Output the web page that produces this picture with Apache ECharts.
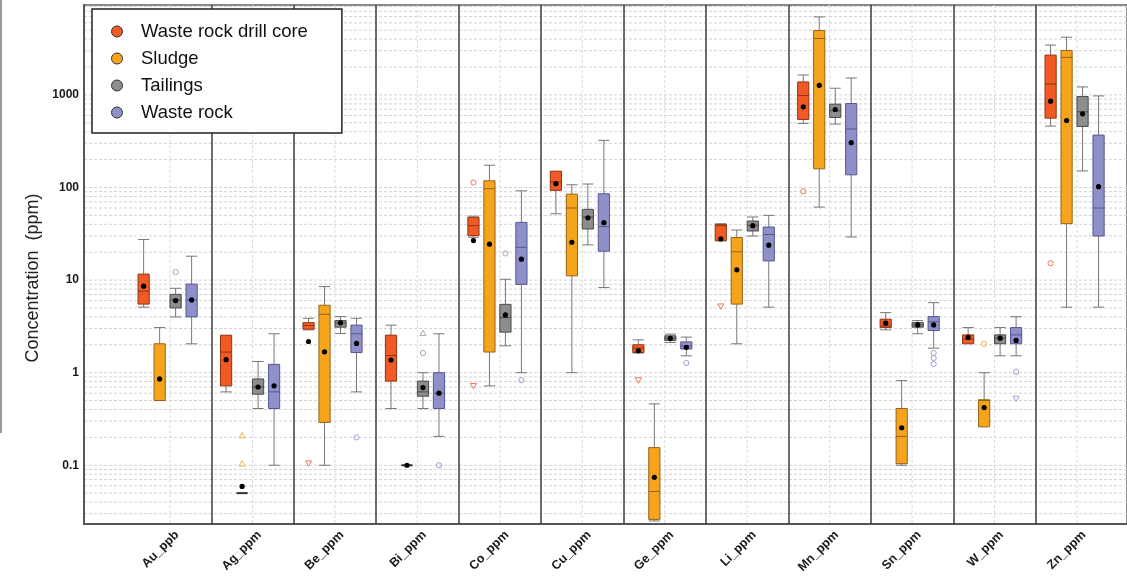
<!DOCTYPE html>
<html><head><meta charset="utf-8">
<script src="https://cdn.jsdelivr.net/npm/echarts@6/dist/echarts.min.js"></script>
<style>html,body{margin:0;padding:0;background:#fff}#c{width:1127px;height:576px}</style>
</head><body><div id="c"></div>
<script>
// ---------- DATA ----------
const categories = ['Au_ppb','Ag_ppm','Be_ppm','Bi_ppm','Co_ppm','Cu_ppm','Ge_ppm','Li_ppm','Mn_ppm','Sn_ppm','W_ppm','Zn_ppm'];
const seriesNames = ['Waste rock drill core','Sludge','Tailings','Waste rock'];
const yMajorTicks = [0.1, 1, 10, 100, 1000];

// [min, Q1, median, Q3, max]
const drillCoreBox = [
  [5.1, 5.5, 7.6, 11.6, 27.4], [0.62, 0.72, 1.67, 2.54, 2.54], [2.9, 2.95, 3.23, 3.47, 3.87],
  [0.41, 0.81, 1.53, 2.54, 3.26], [29, 30.2, 38.7, 47.6, 49], [52, 93, 115, 150, 150],
  [1.63, 1.65, 1.84, 2.0, 2.26], [26.5, 26.5, 38.7, 40, 40.5], [492, 543, 984, 1380, 1641],
  [2.9, 3.07, 3.2, 3.78, 4.45], [2.05, 2.05, 2.3, 2.56, 3.07], [460, 561, 1312, 2690, 3450]
];
const drillCoreMean = [8.6, 1.38, 2.17, 1.37, 26.7, 110, 1.72, 27.8, 743, 3.42, 2.4, 855];

const sludgeBox = [
  [0.5, 0.5, 0.5, 2.05, 3.07], [0.05, 0.05, 0.05, 0.05, 0.05], [0.1, 0.29, 4.27, 5.35, 8.5],
  [0.1, 0.1, 0.1, 0.1, 0.1], [0.72, 1.67, 97, 118, 174], [1.0, 11.1, 60, 84.7, 107],
  [0.025, 0.026, 0.052, 0.155, 0.46], [2.05, 5.5, 20.2, 28.8, 34.7], [61.4, 159, 4065, 4960, 6950],
  [0.1, 0.104, 0.205, 0.41, 0.82], [0.26, 0.26, 0.5, 0.51, 1.0], [5.1, 40.7, 2540, 3020, 4200]
];
const sludgeMean = [0.855, 0.059, 1.68, 0.1, 24.4, 25.6, 0.074, 12.9, 1270, 0.254, 0.42, 529];

const tailingsBox = [
  [4.0, 5.0, 6.1, 7.0, 8.15], [0.41, 0.585, 0.70, 0.855, 1.32], [2.65, 3.1, 3.45, 3.65, 4.03],
  [0.41, 0.557, 0.62, 0.81, 1.0], [1.95, 2.74, 3.93, 5.47, 10.2], [24, 35.6, 48, 58, 109],
  [2.12, 2.23, 2.36, 2.5, 2.61], [29.9, 33.9, 39, 43.4, 48], [484, 570, 673, 794, 1180],
  [2.63, 3.1, 3.28, 3.47, 3.65], [1.52, 2.05, 2.36, 2.56, 3.07], [151, 456, 656, 959, 1219]
];
const tailingsMean = [6.0, 0.70, 3.45, 0.69, 4.2, 47, 2.35, 38.7, 695, 3.28, 2.36, 625];

const wasteRockBox = [
  [2.05, 4.0, 6.1, 9.05, 18.1], [0.1, 0.41, 0.62, 1.23, 2.63], [0.62, 1.65, 2.63, 3.26, 3.87],
  [0.205, 0.41, 0.60, 1.0, 2.63], [1.0, 8.98, 22.6, 42, 92], [8.3, 20.5, 37.8, 85.5, 323],
  [1.52, 1.8, 1.95, 2.15, 2.42], [5.1, 16.1, 31, 37.4, 50], [29.2, 137, 428, 806, 1523],
  [1.84, 2.85, 3.54, 4.03, 5.7], [1.52, 2.05, 2.56, 3.07, 4.03], [5.1, 29.9, 60, 368, 975]
];
const wasteRockMean = [6.1, 0.72, 2.07, 0.6, 16.8, 41.7, 1.88, 23.8, 305, 3.28, 2.23, 102];

// outliers: [categoryIndex, value, marker]
const drillCoreOutliers = [[2,0.105,'down'],[4,113,'circle'],[4,0.72,'down'],[6,0.83,'down'],[7,5.2,'down'],[8,91,'circle'],[11,15.2,'circle']];
const sludgeOutliers = [[1,0.21,'up'],[1,0.104,'up'],[10,2.05,'circle']];
const tailingsOutliers = [[0,12.2,'circle'],[3,2.67,'up'],[3,1.63,'circle'],[4,19.4,'circle']];
const wasteRockOutliers = [[2,0.2,'circle'],[3,0.1,'circle'],[4,0.83,'circle'],[6,1.27,'circle'],[9,1.63,'circle'],[9,1.44,'circle'],[9,1.24,'circle'],[10,1.02,'circle'],[10,0.525,'down']];

// ---------- STYLE ----------
const Y_MIN = 0.0232, Y_MAX = 9350;
const fills = ['#F15A24', '#F7A41D', '#8D8D8D', '#8F90C9'];
const borders = ['#8E3614', '#94631A', '#4A4A4A', '#56578F'];
const outlierColors = ['#F3765A', '#F6B54F', '#A8A8A8', '#9D9ED6'];
const whiskerColor = '#777777';
const FONT = 'Liberation Sans, Arial, sans-serif';

const boxes = [drillCoreBox, sludgeBox, tailingsBox, wasteRockBox];
const means = [drillCoreMean, sludgeMean, tailingsMean, wasteRockMean];
const outliers = [drillCoreOutliers, sludgeOutliers, tailingsOutliers, wasteRockOutliers];

function groupOffset(band, g) {
  const avail = band * 0.8 - 2, per = avail / 4, bw = per * 0.7;
  return { off: -avail / 2 + per * g + bw / 2, bw: bw };
}

function boxRenderer(g) {
  return function (params, api) {
    const cat = api.value(0);
    const mn = api.value(1), q1 = api.value(2), md = api.value(3), q3 = api.value(4), mx = api.value(5), mean = api.value(6);
    const band = api.size([1, 0], [cat, 1])[0];
    const o = groupOffset(band, g);
    const cx = api.coord([cat, md])[0] + o.off;
    const Y = v => api.coord([cat, v])[1];
    const h = o.bw / 2;
    const ch = [];
    const ws = { stroke: whiskerColor, lineWidth: 1 };
    if (q3 > q1) {
      if (mx > q3) {
        ch.push({ type: 'line', shape: { x1: cx, y1: Y(q3), x2: cx, y2: Y(mx) }, style: ws });
        ch.push({ type: 'line', shape: { x1: cx - h, y1: Y(mx), x2: cx + h, y2: Y(mx) }, style: ws });
      }
      if (mn < q1) {
        ch.push({ type: 'line', shape: { x1: cx, y1: Y(q1), x2: cx, y2: Y(mn) }, style: ws });
        ch.push({ type: 'line', shape: { x1: cx - h, y1: Y(mn), x2: cx + h, y2: Y(mn) }, style: ws });
      }
      ch.push({ type: 'rect', shape: { x: cx - h, y: Y(q3), width: o.bw, height: Y(q1) - Y(q3) },
        style: { fill: fills[g], stroke: borders[g], lineWidth: 1 } });
      ch.push({ type: 'line', shape: { x1: cx - h, y1: Y(md), x2: cx + h, y2: Y(md) },
        style: { stroke: borders[g], lineWidth: 1 } });
    } else {
      ch.push({ type: 'line', shape: { x1: cx - h, y1: Y(md), x2: cx + h, y2: Y(md) },
        style: { stroke: '#3a3026', lineWidth: 2 } });
    }
    ch.push({ type: 'circle', shape: { cx: cx, cy: Y(mean), r: 2.6 }, style: { fill: '#000' } });
    return { type: 'group', children: ch };
  };
}

function outlierRenderer(g) {
  return function (params, api) {
    const item = outliers[g][params.dataIndex];
    const cat = item[0], v = item[1], mk = item[2];
    const band = api.size([1, 0], [cat, 1])[0];
    const o = groupOffset(band, g);
    const p = api.coord([cat, v]);
    const cx = p[0] + o.off, cy = p[1];
    const st = { fill: 'none', stroke: outlierColors[g], lineWidth: 1 };
    if (mk === 'circle') return { type: 'circle', shape: { cx: cx, cy: cy, r: 2.6 }, style: st };
    const s = 3;
    const pts = mk === 'up'
      ? [[cx - s, cy + s * 0.8], [cx + s, cy + s * 0.8], [cx, cy - s]]
      : [[cx - s, cy - s * 0.8], [cx + s, cy - s * 0.8], [cx, cy + s]];
    return { type: 'polygon', shape: { points: pts }, style: st };
  };
}

// gridline values (minor 1..9 per decade) inside the axis range
const gridValues = [];
for (let e = -2; e <= 3; e++) for (let k = 1; k <= 9; k++) {
  const v = k * Math.pow(10, e);
  if (v >= Y_MIN && v <= Y_MAX) gridValues.push(v);
}

const series = [];
series.push({
  type: 'custom', xAxisIndex: 0, yAxisIndex: 0, z: 0, silent: true,
  data: gridValues.map(v => [0.5, v]),
  renderItem: function (params, api) {
    const y = api.coord([0.5, api.value(1)])[1];
    const cs = params.coordSys;
    return { type: 'line', shape: { x1: cs.x, y1: y, x2: cs.x + cs.width, y2: y },
      style: { stroke: '#d2d2d2', lineWidth: 1, lineDash: [3, 2] } };
  }
});
series.push({
  type: 'custom', xAxisIndex: 1, yAxisIndex: 1, z: 1, silent: true,
  data: categories.map((c, i) => [i, 1]),
  renderItem: function (params, api) {
    const x = api.coord([api.value(0), 1])[0];
    const cs = params.coordSys;
    return { type: 'line', shape: { x1: x, y1: cs.y, x2: x, y2: cs.y + cs.height },
      style: { stroke: '#dcdcdc', lineWidth: 1, lineDash: [3, 2] } };
  }
});
for (let g = 0; g < 4; g++) {
  series.push({
    name: seriesNames[g], type: 'custom', xAxisIndex: 1, yAxisIndex: 1, z: 4, color: fills[g],
    encode: { x: 0, y: [1, 2, 3, 4, 5] },
    data: boxes[g].map((b, i) => [i, b[0], b[1], b[2], b[3], b[4], means[g][i]]),
    renderItem: boxRenderer(g)
  });
  series.push({
    name: seriesNames[g], type: 'custom', xAxisIndex: 1, yAxisIndex: 1, z: 4, color: fills[g],
    encode: { x: 0, y: 1 },
    data: outliers[g].map(o => [o[0], o[1]]),
    renderItem: outlierRenderer(g)
  });
}

const chart = echarts.init(document.getElementById('c'), null, { renderer: 'canvas' });
chart.setOption({
  animation: false,
  backgroundColor: '#fff',
  grid: [
    { left: 84, right: -2, top: 5, bottom: 52, show: true, borderColor: '#8a8a8a', borderWidth: 2, backgroundColor: 'transparent' },
    { left: 128.8, right: 8.8, top: 5, bottom: 52 },
    { left: 135.8, right: 1.8, top: 5, bottom: 52 }
  ],
  xAxis: [
    { gridIndex: 0, type: 'value', min: 0, max: 1, axisLine: { show: true, onZero: false, lineStyle: { color: '#555', width: 2 } },
      axisTick: { show: false }, axisLabel: { show: false }, splitLine: { show: false } },
    { gridIndex: 1, type: 'category', data: categories, z: 1,
      axisLine: { show: false }, axisTick: { show: false }, axisLabel: { show: false },
      splitLine: { show: true, showMinLine: false, showMaxLine: false, lineStyle: { color: '#3c3c3c', width: 1.5 } } },
    { gridIndex: 2, type: 'category', data: categories,
      axisLine: { show: false }, axisTick: { show: false }, splitLine: { show: false },
      axisLabel: { rotate: 45, margin: 21, fontSize: 12.5, fontWeight: 'bold', color: '#1a1a1a', fontFamily: FONT } }
  ],
  yAxis: [
    { gridIndex: 0, type: 'log', logBase: 10, min: Y_MIN, max: Y_MAX,
      axisLine: { show: true, lineStyle: { color: '#555', width: 2 } }, axisTick: { show: false },
      splitLine: { show: false }, minorTick: { show: false },
      axisLabel: { margin: 5, fontSize: 12, fontWeight: 'bold', color: '#1a1a1a', fontFamily: FONT,
        showMinLabel: false, showMaxLabel: false,
        formatter: function (v) {
          const m = yMajorTicks.find(t => Math.abs(Math.log10(v / t)) < 1e-6);
          return m !== undefined ? String(m) : '';
        } } },
    { gridIndex: 1, type: 'log', logBase: 10, min: Y_MIN, max: Y_MAX, show: false, splitLine: { show: false } },
    { gridIndex: 2, type: 'value', min: 0, max: 1, show: false, splitLine: { show: false } }
  ],
  legend: {
    left: 92, top: 9, orient: 'vertical', selectedMode: false,
    data: seriesNames.map((n, i) => ({ name: n, icon: 'circle', itemStyle: { color: fills[i], borderColor: '#333', borderWidth: 1 } })),
    itemWidth: 38, itemHeight: 11, itemGap: 8,
    padding: [13, 34, 11, 19],
    backgroundColor: '#fff', borderColor: '#222', borderWidth: 1.5,
    textStyle: { fontSize: 18.5, lineHeight: 17, color: '#111', fontFamily: FONT }
  },
  graphic: [
    { type: 'text', x: 33, y: 278, rotation: Math.PI / 2,
      style: { text: 'Concentration  (ppm)', font: '18px ' + FONT, fill: '#222', align: 'center', verticalAlign: 'middle' } },
    { type: 'line', shape: { x1: 1, y1: 0, x2: 1, y2: 433 }, style: { stroke: '#9a9a9a', lineWidth: 2 } }
  ],
  series: series
});
</script></body></html>
